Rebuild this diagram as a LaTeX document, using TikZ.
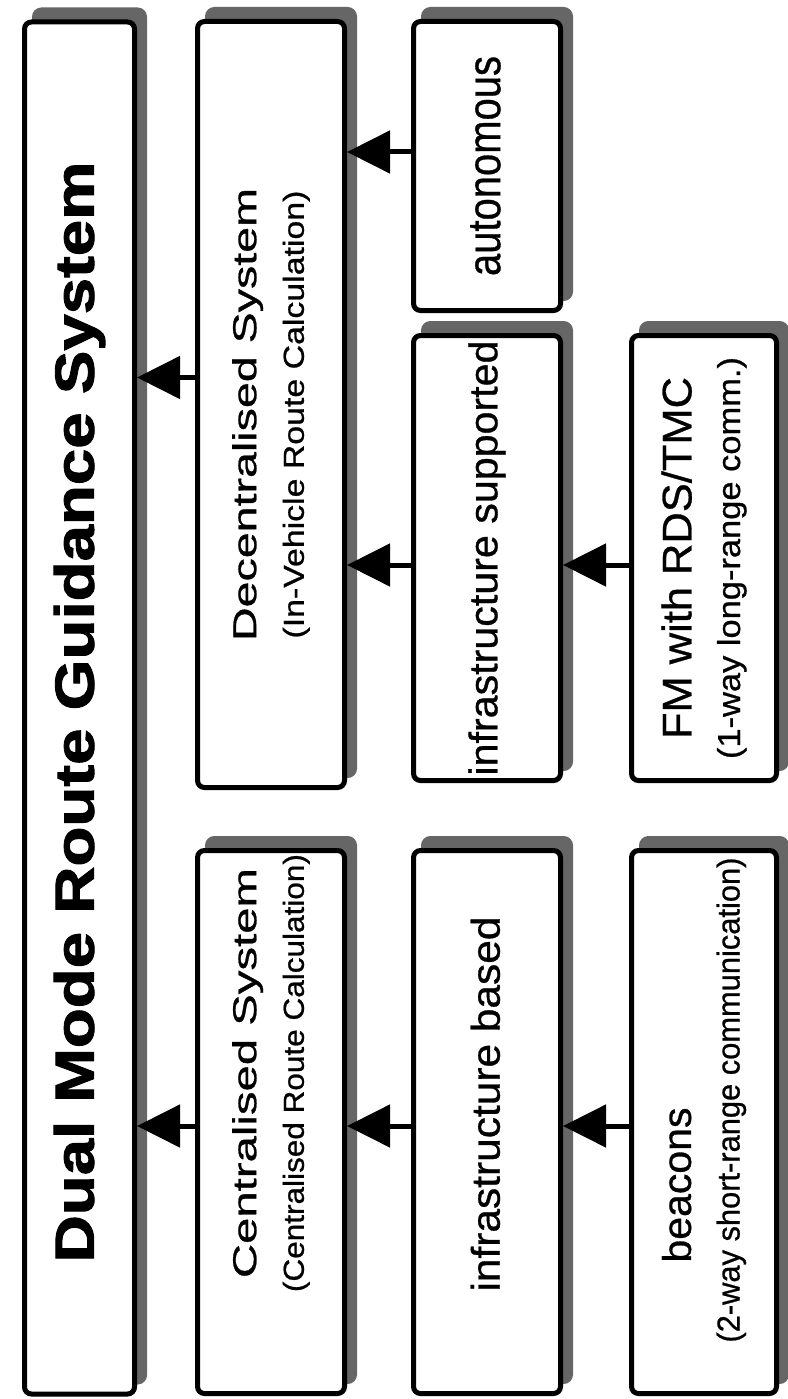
\documentclass[tikz,border=0pt]{standalone}
\usepackage{fontspec}
\setmainfont{Liberation Sans}[FakeBold=0.7]
\newfontfamily\headfont{Liberation Sans Bold}[FakeBold=1.6]
\usepackage{graphicx}
\usetikzlibrary{
  arrows.meta,
  shadows
}

% Rotated text block, with an optional push along the text.
\newcommand{\vlabel}[2][0pt]{\rotatebox{90}{\hspace*{#1}\begin{tabular}{@{}c@{}}#2\end{tabular}}}

\tikzset{
  guide/.style = {
    draw = black,
    line width = 5pt,
    rounded corners = 7pt,
    fill = white,
    inner sep = 0pt,
    copy shadow = {shadow xshift = 10pt, shadow yshift = 12pt,
      fill = black!60, draw = black!60}
  },
  link/.style = {
    -{Triangle[length = 43pt, width = 42pt]},
    line width = 5pt
  }
}

\begin{document}
\begin{tikzpicture}[x = 1pt, y = -1pt]
  \useasboundingbox (0,0) rectangle (787,1399);

  % Title.
  \node[guide, minimum width = 110pt, minimum height = 1372pt] (title) at (79.5,708)
    {\vlabel[-8pt]{\resizebox{1100pt}{40pt}{\headfont Dual Mode Route Guidance System}}};

  % Systems.
  \node[guide, minimum width = 147pt, minimum height = 766pt] (dec) at (271,404.5)
    {\vlabel[-20pt]{\resizebox{453pt}{24pt}{Decentralised System}\\[23pt]
      \resizebox{448pt}{21pt}{(In-Vehicle Route Calculation)}}};
  \node[guide, minimum width = 147pt, minimum height = 543pt] (cen) at (271,1122)
    {\vlabel[98pt]{\resizebox{410pt}{24pt}{Centralised System}\\[23pt]
      \resizebox{438pt}{21pt}{(Centralised Route Calculation)}}};

  % Kinds.
  \node[guide, minimum width = 147pt, minimum height = 289pt] (auto) at (487,166)
    {\vlabel{\resizebox{220pt}{30pt}{autonomous}}};
  \node[guide, minimum width = 147pt, minimum height = 445pt] (sup) at (487,558)
    {\vlabel{\resizebox{435pt}{29pt}{infrastructure supported}}};
  \node[guide, minimum width = 147pt, minimum height = 543pt] (based) at (487,1122)
    {\vlabel[36pt]{\resizebox{375pt}{29pt}{infrastructure based}}};

  % Communication.
  \node[guide, minimum width = 145pt, minimum height = 445pt] (fm) at (704,558)
    {\vlabel{\resizebox{362pt}{30pt}{FM with RDS/TMC}\\[22pt]
      \resizebox{402pt}{23pt}{(1-way long-range comm.)}}};
  \node[guide, minimum width = 145pt, minimum height = 543pt] (beacons) at (704,1122)
    {\vlabel[44pt]{\resizebox{155pt}{29pt}{beacons}\hspace*{170pt}\\[22pt]
      \resizebox{485pt}{23pt}{(2-way short-range communication)}}};

  % Links.
  \draw[link] ([yshift = 27pt]dec.west) -- ([yshift = 27pt]dec.west -| title.east);
  \draw[link] ([yshift = -4pt]cen.west) -- ([yshift = -4pt]cen.west -| title.east);
  \draw[link] ([yshift = 14pt]auto.west) -- ([yshift = 14pt]auto.west -| dec.east);
  \draw[link] ([yshift = -7pt]sup.west) -- ([yshift = -7pt]sup.west -| dec.east);
  \draw[link] ([yshift = -4pt]based.west) -- ([yshift = -4pt]based.west -| cen.east);
  \draw[link] ([yshift = -7pt]fm.west) -- ([yshift = -7pt]fm.west -| sup.east);
  \draw[link] ([yshift = -4pt]beacons.west) -- ([yshift = -4pt]beacons.west -| based.east);
\end{tikzpicture}
\end{document}
